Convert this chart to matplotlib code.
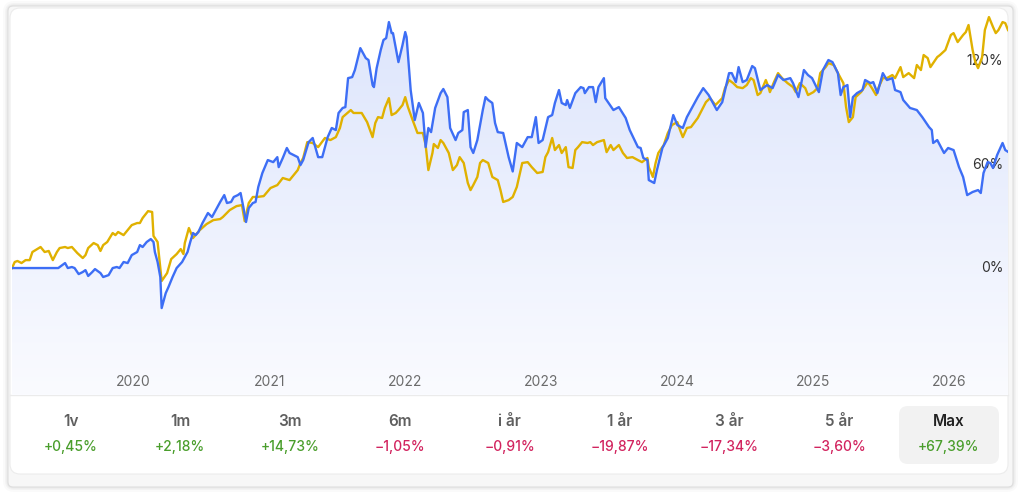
import numpy as np
import matplotlib
matplotlib.use('Agg')
import matplotlib.pyplot as plt
from matplotlib.patches import FancyBboxPatch
from matplotlib.transforms import blended_transform_factory

plt.rcParams['font.family'] = ['Inter', 'DejaVu Sans']

# Stock (blue): time as decimal year, total return in %
stock_t = [2019.11, 2019.45, 2019.48, 2019.50, 2019.52, 2019.55, 2019.57, 2019.60, 2019.63, 2019.65,
           2019.67, 2019.70, 2019.72, 2019.76, 2019.78, 2019.82, 2019.85, 2019.88, 2019.90, 2019.93,
           2019.96, 2019.99, 2020.03, 2020.05, 2020.07, 2020.10, 2020.13, 2020.15, 2020.16, 2020.18,
           2020.20, 2020.21, 2020.24, 2020.26, 2020.29, 2020.32, 2020.36, 2020.40, 2020.42, 2020.44,
           2020.46, 2020.48, 2020.51, 2020.55, 2020.58, 2020.62, 2020.64, 2020.67, 2020.69, 2020.72,
           2020.74, 2020.77, 2020.79, 2020.81, 2020.83, 2020.85, 2020.88, 2020.90, 2020.92, 2020.95,
           2020.99, 2021.03, 2021.06, 2021.07, 2021.10, 2021.13, 2021.15, 2021.21, 2021.23, 2021.25,
           2021.29, 2021.32, 2021.36, 2021.39, 2021.43, 2021.46, 2021.49, 2021.51, 2021.54, 2021.56,
           2021.58, 2021.61, 2021.63, 2021.67, 2021.71, 2021.73, 2021.76, 2021.77, 2021.79, 2021.82,
           2021.84, 2021.86, 2021.88, 2021.90, 2021.91, 2021.95, 2021.98, 2022.00, 2022.01, 2022.04,
           2022.07, 2022.10, 2022.13, 2022.15, 2022.17, 2022.19, 2022.22, 2022.26, 2022.28, 2022.31,
           2022.33, 2022.37, 2022.39, 2022.42, 2022.43, 2022.46, 2022.48, 2022.50, 2022.53, 2022.57,
           2022.59, 2022.61, 2022.64, 2022.66, 2022.68, 2022.72, 2022.76, 2022.79, 2022.82, 2022.86,
           2022.90, 2022.93, 2022.96, 2022.98, 2023.01, 2023.05, 2023.08, 2023.10, 2023.13, 2023.15,
           2023.18, 2023.19, 2023.21, 2023.25, 2023.29, 2023.31, 2023.32, 2023.35, 2023.38, 2023.40,
           2023.42, 2023.46, 2023.47, 2023.53, 2023.57, 2023.62, 2023.65, 2023.71, 2023.73, 2023.75,
           2023.78, 2023.79, 2023.83, 2023.85, 2023.89, 2023.93, 2023.97, 2024.00, 2024.04, 2024.07,
           2024.15, 2024.19, 2024.23, 2024.29, 2024.33, 2024.38, 2024.40, 2024.43, 2024.45, 2024.48,
           2024.51, 2024.55, 2024.57, 2024.61, 2024.66, 2024.70, 2024.74, 2024.78, 2024.83, 2024.85,
           2024.89, 2024.93, 2024.96, 2024.99, 2025.04, 2025.07, 2025.11, 2025.14, 2025.18, 2025.20,
           2025.22, 2025.25, 2025.27, 2025.29, 2025.32, 2025.36, 2025.38, 2025.42, 2025.44, 2025.47,
           2025.51, 2025.54, 2025.58, 2025.60, 2025.64, 2025.66, 2025.71, 2025.76, 2025.80, 2025.85,
           2025.87, 2025.88, 2025.91, 2025.96, 2025.99, 2026.03, 2026.07, 2026.10, 2026.13, 2026.17,
           2026.21, 2026.23, 2026.25, 2026.28, 2026.30, 2026.32, 2026.35, 2026.39, 2026.41, 2026.43]
stock_v = [0, 0, 1.7, 2.9, 0, 0.6, 0, -3.5, -2.3, -1.2,
           -4.6, -2.3, -0.6, -2.9, -5.2, -4.1, 0, 0.6, 0, 3.5,
           2.9, 7.5, 9.3, 13.3, 12.2, 15.1, 16.8, 15.1, 9.3, 3.5,
           -5.2, -23.2, -14.5, -11.0, -5.2, 0, 3.5, 9.3, 15.1, 20.3,
           19.1, 20.9, 26.1, 31.9, 29.6, 35.4, 38.3, 42.3, 37.7, 38.3,
           41.2, 42.3, 43.5, 35.4, 26.7, 34.8, 37.7, 38.3, 47.0, 55.1,
           62.6, 61.4, 64.3, 58.5, 63.8, 69.6, 66.7, 64.3, 59.7, 62.6,
           73.0, 75.4, 64.3, 64.3, 75.9, 81.2, 80.0, 89.9, 92.8, 93.3,
           110.1, 110.7, 114.8, 127.5, 121.7, 120.6, 106.1, 104.9, 115.9, 126.4,
           132.2, 133.3, 142.6, 136.2, 136.2, 119.4, 129.3, 136.8, 133.9, 103.2,
           85.8, 95.7, 89.9, 70.1, 81.2, 78.8, 92.8, 101.4, 103.8, 99.1,
           81.2, 74.2, 78.3, 80.0, 90.4, 91.6, 70.1, 66.7, 74.2, 91.6,
           99.1, 97.4, 95.7, 84.1, 78.8, 78.3, 64.3, 56.0, 72.5, 70.1,
           75.9, 75.9, 87.5, 72.5, 74.2, 87.5, 88.7, 95.7, 103.2, 95.7,
           94.5, 97.4, 92.8, 101.4, 104.9, 104.3, 101.4, 104.9, 104.9, 96.2,
           104.9, 110.1, 98.5, 91.6, 93.3, 87.0, 80.0, 70.1, 69.6, 63.8,
           62.6, 51.0, 49.3, 56.8, 69.6, 75.4, 88.7, 82.9, 81.2, 87.5,
           99.1, 104.3, 100.3, 91.6, 96.2, 113.0, 113.0, 107.8, 116.5, 107.8,
           109.0, 117.1, 115.9, 103.2, 106.1, 104.3, 111.9, 109.0, 110.1, 107.2,
           99.1, 114.8, 111.9, 110.1, 102.0, 114.8, 120.6, 119.4, 113.0, 100.3,
           104.9, 106.1, 87.5, 99.1, 101.4, 103.2, 109.0, 107.2, 107.8, 101.4,
           113.0, 109.0, 110.1, 103.2, 102.0, 97.4, 92.8, 91.6, 87.5, 81.7,
           80.0, 72.5, 74.2, 66.7, 69.6, 68.4, 58.5, 52.8, 42.3, 44.1,
           45.2, 43.5, 55.1, 61.4, 60.9, 58.0, 65.5, 72.5, 68.4, 67.39]

# Benchmark index (yellow)
index_t = [2019.11, 2019.13, 2019.15, 2019.18, 2019.21, 2019.24, 2019.26, 2019.32, 2019.35, 2019.38,
           2019.41, 2019.44, 2019.46, 2019.50, 2019.52, 2019.55, 2019.59, 2019.63, 2019.65, 2019.67,
           2019.71, 2019.74, 2019.76, 2019.78, 2019.81, 2019.85, 2019.87, 2019.89, 2019.93, 2019.96,
           2019.99, 2020.03, 2020.05, 2020.07, 2020.11, 2020.14, 2020.15, 2020.18, 2020.21, 2020.25,
           2020.28, 2020.32, 2020.35, 2020.37, 2020.38, 2020.41, 2020.44, 2020.49, 2020.54, 2020.59,
           2020.64, 2020.66, 2020.71, 2020.76, 2020.80, 2020.82, 2020.85, 2020.88, 2020.91, 2020.96,
           2021.01, 2021.06, 2021.10, 2021.15, 2021.21, 2021.23, 2021.25, 2021.28, 2021.32, 2021.36,
           2021.41, 2021.45, 2021.49, 2021.52, 2021.54, 2021.60, 2021.62, 2021.65, 2021.68, 2021.72,
           2021.76, 2021.78, 2021.80, 2021.83, 2021.85, 2021.88, 2021.90, 2021.93, 2021.95, 2021.98,
           2022.00, 2022.02, 2022.06, 2022.09, 2022.13, 2022.15, 2022.17, 2022.20, 2022.21, 2022.24,
           2022.26, 2022.28, 2022.32, 2022.35, 2022.38, 2022.40, 2022.43, 2022.46, 2022.48, 2022.50,
           2022.53, 2022.55, 2022.57, 2022.61, 2022.64, 2022.68, 2022.70, 2022.72, 2022.76, 2022.79,
           2022.82, 2022.86, 2022.90, 2022.93, 2022.97, 2023.01, 2023.03, 2023.05, 2023.08, 2023.10,
           2023.13, 2023.15, 2023.18, 2023.20, 2023.23, 2023.25, 2023.27, 2023.30, 2023.34, 2023.36,
           2023.38, 2023.41, 2023.46, 2023.48, 2023.51, 2023.53, 2023.57, 2023.60, 2023.63, 2023.67,
           2023.71, 2023.74, 2023.78, 2023.79, 2023.82, 2023.84, 2023.86, 2023.90, 2023.93, 2023.96,
           2024.00, 2024.02, 2024.04, 2024.07, 2024.10, 2024.15, 2024.21, 2024.24, 2024.28, 2024.33,
           2024.35, 2024.38, 2024.41, 2024.44, 2024.48, 2024.51, 2024.54, 2024.56, 2024.59, 2024.61,
           2024.65, 2024.67, 2024.68, 2024.71, 2024.74, 2024.77, 2024.81, 2024.85, 2024.87, 2024.90,
           2024.94, 2024.96, 2025.00, 2025.03, 2025.05, 2025.09, 2025.11, 2025.15, 2025.18, 2025.22,
           2025.24, 2025.26, 2025.29, 2025.31, 2025.35, 2025.37, 2025.40, 2025.43, 2025.46, 2025.48,
           2025.51, 2025.54, 2025.58, 2025.60, 2025.64, 2025.66, 2025.70, 2025.74, 2025.76, 2025.79,
           2025.81, 2025.84, 2025.86, 2025.88, 2025.91, 2025.93, 2025.97, 2026.01, 2026.03, 2026.06,
           2026.10, 2026.12, 2026.14, 2026.17, 2026.19, 2026.21, 2026.24, 2026.26, 2026.29, 2026.32,
           2026.34, 2026.36, 2026.39, 2026.41, 2026.43]
index_v = [0, 3.5, 4.1, 2.9, 4.6, 4.6, 9.3, 12.2, 9.3, 9.9,
           4.6, 9.3, 11.6, 12.2, 11.6, 12.2, 8.7, 5.8, 7.5, 11.6,
           14.5, 13.3, 9.9, 13.3, 15.1, 20.3, 19.1, 20.9, 19.1, 22.0,
           24.9, 26.1, 26.1, 29.0, 33.0, 32.5, 18.6, 15.1, -7.5, -2.9,
           5.2, 8.1, 11.0, 8.1, 14.5, 23.2, 17.4, 22.0, 25.5, 27.8,
           28.4, 29.6, 33.6, 35.9, 36.5, 27.2, 37.7, 41.2, 41.2, 41.7,
           46.4, 48.1, 52.2, 51.0, 56.8, 60.9, 63.8, 73.0, 72.5, 70.1,
           75.4, 74.2, 75.9, 81.2, 87.5, 91.6, 89.9, 89.9, 89.9, 84.6,
           75.9, 84.1, 87.5, 87.0, 92.8, 98.5, 88.7, 89.9, 91.6, 94.5,
           99.1, 93.3, 84.6, 78.3, 78.3, 71.3, 56.8, 66.7, 71.9, 69.6,
           74.2, 72.5, 66.7, 56.8, 59.7, 64.3, 60.9, 49.3, 45.2, 48.1,
           52.8, 60.9, 62.6, 60.9, 52.8, 51.0, 45.2, 38.3, 39.4, 41.2,
           47.0, 60.9, 61.4, 58.5, 55.1, 55.7, 64.3, 67.2, 75.4, 68.4,
           71.3, 66.7, 70.1, 58.5, 58.0, 68.4, 70.1, 73.0, 72.5, 73.0,
           71.3, 73.0, 74.2, 67.2, 71.3, 68.4, 71.3, 66.7, 63.8, 64.3,
           62.6, 61.4, 63.8, 58.5, 52.8, 60.9, 66.7, 71.3, 78.3, 82.9,
           84.6, 80.0, 75.9, 81.2, 81.7, 87.0, 96.2, 98.5, 94.5, 98.5,
           104.3, 109.0, 107.2, 104.9, 104.3, 106.1, 110.1, 109.0, 100.3, 101.4,
           109.0, 104.9, 102.0, 107.8, 113.0, 110.1, 107.2, 104.9, 102.0, 107.2,
           104.3, 100.3, 102.0, 104.3, 113.0, 116.5, 118.8, 117.7, 113.0, 107.2,
           93.3, 84.6, 87.5, 99.1, 102.0, 104.3, 107.8, 104.3, 100.3, 104.9,
           110.1, 110.1, 111.9, 110.1, 116.5, 110.7, 113.0, 110.1, 117.7, 114.8,
           123.5, 121.7, 116.5, 118.8, 122.3, 123.5, 126.4, 135.1, 136.2, 131.0,
           135.1, 136.8, 140.9, 126.4, 119.4, 115.9, 122.3, 138.0, 145.5, 139.7,
           136.2, 138.0, 142.6, 142.0, 138.0]

year_ticks = [2020, 2021, 2022, 2023, 2024, 2025, 2026]
pct_ticks = [0, 60, 120]
periods = ['1v', '1m', '3m', '6m', 'i år', '1 år', '3 år', '5 år', 'Max']
period_returns = [0.45, 2.18, 14.73, -1.05, -0.91, -19.87, -17.34, -3.60, 67.39]

BLUE = '#3d6ef5'
GOLD = '#e0b100'
GREEN = '#4a9e2c'
RED = '#d2245f'

W, H = 1024, 493
fig = plt.figure(figsize=(W / 100, H / 100), dpi=100)
fig.patch.set_facecolor('white')

# background layer in pixel coordinates (card, shadow, buttons)
bg = fig.add_axes([0, 0, 1, 1])
bg.set_xlim(0, W)
bg.set_ylim(H, 0)
bg.axis('off')

for pad, a in [(5, 0.035), (3, 0.05), (1.5, 0.07)]:
    bg.add_patch(FancyBboxPatch((8 - pad, 6 - pad), 1005 + 2 * pad, 481 + 2 * pad,
                                boxstyle='round,pad=0,rounding_size=%d' % (6 + pad),
                                fc='#808080', ec='none', alpha=a))
bg.add_patch(FancyBboxPatch((8, 6), 1005, 481, boxstyle='round,pad=0,rounding_size=5',
                            fc='#f7f7f7', ec='#dedede', lw=0.8))
bg.add_patch(FancyBboxPatch((10, 8), 998, 466, boxstyle='round,pad=0,rounding_size=10',
                            fc='white', ec='#ececec', lw=0.8))
bg.plot([10, 1008], [395, 395], color='#ebebeb', lw=1)

# period buttons
bg.add_patch(FancyBboxPatch((899, 406), 100, 58, boxstyle='round,pad=0,rounding_size=9',
                            fc='#f2f2f2', ec='none'))
for i, (p, r) in enumerate(zip(periods, period_returns)):
    cx = 70.5 + i * 109.8
    is_max = p == 'Max'
    bg.text(cx, 422, p, ha='center', va='center', fontsize=11, fontweight='semibold',
            color='#222222' if is_max else '#5f5f5f')
    txt = ('+' if r >= 0 else '\u2212') + ('%.2f' % abs(r)).replace('.', ',') + '%'
    bg.text(cx, 447, txt, ha='center', va='center', fontsize=10, fontweight='medium',
            color=GREEN if r >= 0 else RED)

# chart axes
ax = fig.add_axes([12 / W, 1 - 395 / H, 996 / W, 385 / H])
ax.patch.set_alpha(0)
x0, x1 = 2019.11, 2026.43
y0, y1 = -73.6, 149.6
ax.set_xlim(x0, x1)
ax.set_ylim(y0, y1)
ax.axis('off')

# gradient fill under the stock line
poly = ax.fill_between(stock_t, stock_v, y0, color='none', lw=0)
top = np.array([221, 229, 252]) / 255
bot = np.array([250, 251, 255]) / 255
g = np.linspace(0, 1, 256)[:, None]
img = top * (1 - g[..., None]) + bot * g[..., None]
img = np.repeat(img, 2, axis=1)
im = ax.imshow(img, extent=(x0, x1, y0, 145), aspect='auto', origin='upper', zorder=1)
im.set_clip_path(poly.get_paths()[0], transform=ax.transData)

ax.plot(index_t, index_v, color=GOLD, lw=1.7, zorder=3, solid_joinstyle='round')
ax.plot(stock_t, stock_v, color=BLUE, lw=1.7, zorder=4, solid_joinstyle='round')

tx = blended_transform_factory(ax.transData, ax.transAxes)
for yr in year_ticks:
    ax.text(yr, 0.034, str(yr), transform=tx, ha='center', va='center',
            fontsize=10, color='#6b6b6b')

ty = blended_transform_factory(ax.transAxes, ax.transData)
for v in pct_ticks:
    ax.text(0.995, v, '%d%%' % v, transform=ty, ha='right', va='center',
            fontsize=10, color='#333333', zorder=2)

fig.savefig('out.png', dpi=100)
